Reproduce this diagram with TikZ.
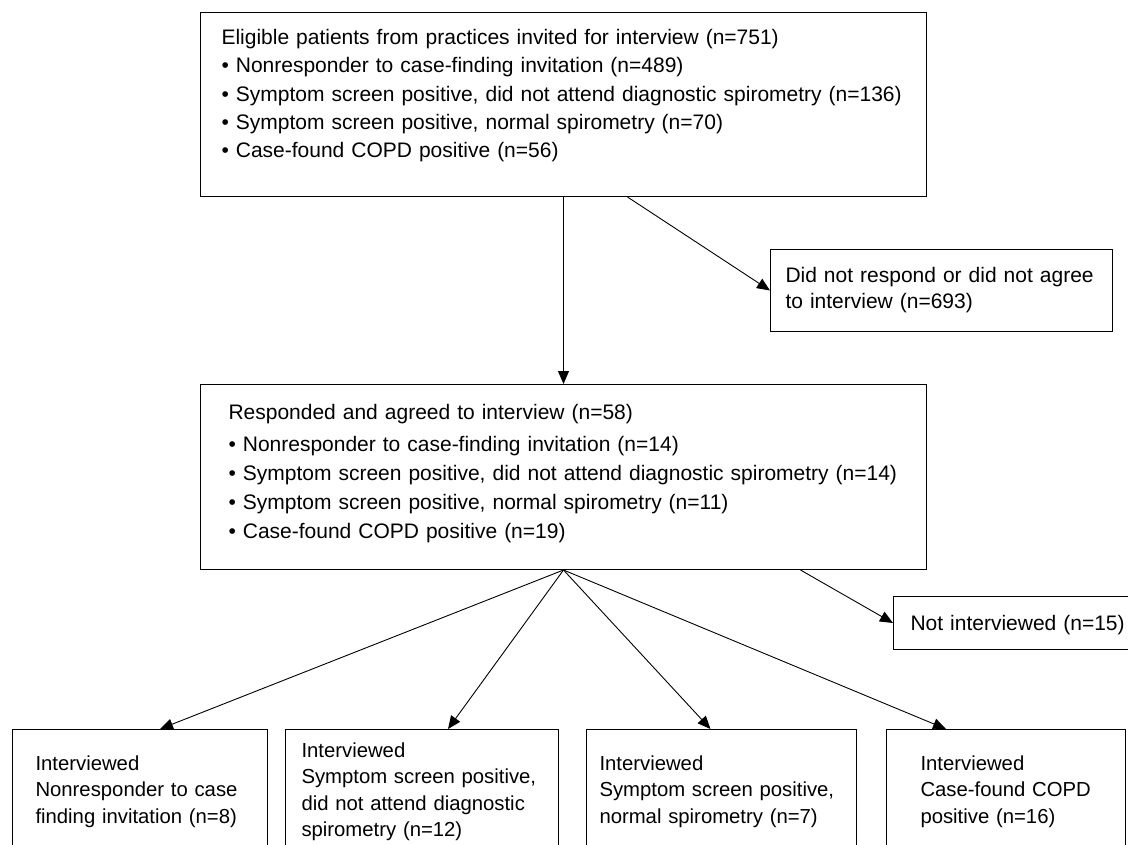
\documentclass[tikz,border=0pt]{standalone}
\usepackage{fontspec}
\setmainfont{Liberation Sans}
\usepackage{tikz}
\usetikzlibrary{arrows.meta}

\begin{document}
\begin{tikzpicture}[x=1pt, y=-1pt,
  box/.style={draw, rectangle, anchor=north west, align=left, inner ysep=0pt, line width=1pt},
  bigtext/.style={font=\fontsize{21}{29}\selectfont},
  leaftext/.style={font=\fontsize{20.3}{26.3}\selectfont},
  arr/.style={-{Triangle[length=13pt,width=11pt]}, line width=0.9pt}]
\useasboundingbox (0,0) rectangle (1128,844);
% Boxes
\node[box, font=\fontsize{21}{28.3}\selectfont, inner xsep=21pt, text width=684pt, text height=32pt, text depth=152pt] (invited) at (200,12)
  {Eligible patients from practices invited for interview (n=751)\\
   \textbullet\ Nonresponder to case-finding invitation (n=489)\\
   \textbullet\ Symptom screen positive, did not attend diagnostic spirometry (n=136)\\
   \textbullet\ Symptom screen positive, normal spirometry (n=70)\\
   \textbullet\ Case-found COPD positive (n=56)};
\node[box, font=\fontsize{21}{26}\selectfont, inner xsep=15pt, text width=312pt, text height=33pt, text depth=49pt] (declined) at (770,249)
  {Did not respond or did not agree\\ to interview (n=693)};
\node[box, bigtext, inner xsep=28pt, text width=670pt, text height=35pt, text depth=150pt] (agreed) at (200,384)
  {Responded and agreed to interview (n=58)\\[3pt]
   \textbullet\ Nonresponder to case-finding invitation (n=14)\\
   \textbullet\ Symptom screen positive, did not attend diagnostic spirometry (n=14)\\
   \textbullet\ Symptom screen positive, normal spirometry (n=11)\\
   \textbullet\ Case-found COPD positive (n=19)};
\node[box, bigtext, inner xsep=17pt, text width=222pt, text height=34pt, text depth=19pt] (notint) at (893,596)
  {Not interviewed (n=15)};
\node[box, leaftext, inner xsep=23pt, text width=209pt, text height=41pt, text depth=100pt] (nonresp) at (12,729)
  {Interviewed\\ Nonresponder to case\\ finding invitation (n=8)};
\node[box, leaftext, inner xsep=16pt, text width=241pt, text height=28pt, text depth=113pt] (noattend) at (285,729)
  {Interviewed\\ Symptom screen positive,\\ did not attend diagnostic\\ spirometry (n=12)};
\node[box, leaftext, inner xsep=13pt, text width=244pt, text height=41pt, text depth=100pt] (normal) at (586,729)
  {Interviewed\\ Symptom screen positive,\\ normal spirometry (n=7)};
\node[box, leaftext, inner xsep=34pt, text width=171pt, text height=41pt, text depth=100pt] (copd) at (886,729)
  {Interviewed\\ Case-found COPD\\ positive (n=16)};
% Arrows
\draw[arr] (invited.south) -- (agreed.north);
\draw[arr] ([xshift=64pt]invited.south) -- (declined.west);
\draw[arr] ([xshift=237pt]agreed.south) -- (notint.west);
\draw[arr] (agreed.south) -- ([xshift=20pt]nonresp.north);
\draw[arr] (agreed.south) -- ([xshift=26pt]noattend.north);
\draw[arr] (agreed.south) -- ([xshift=-11pt]normal.north);
\draw[arr] (agreed.south) -- ([xshift=-60pt]copd.north);
\end{tikzpicture}
\end{document}
